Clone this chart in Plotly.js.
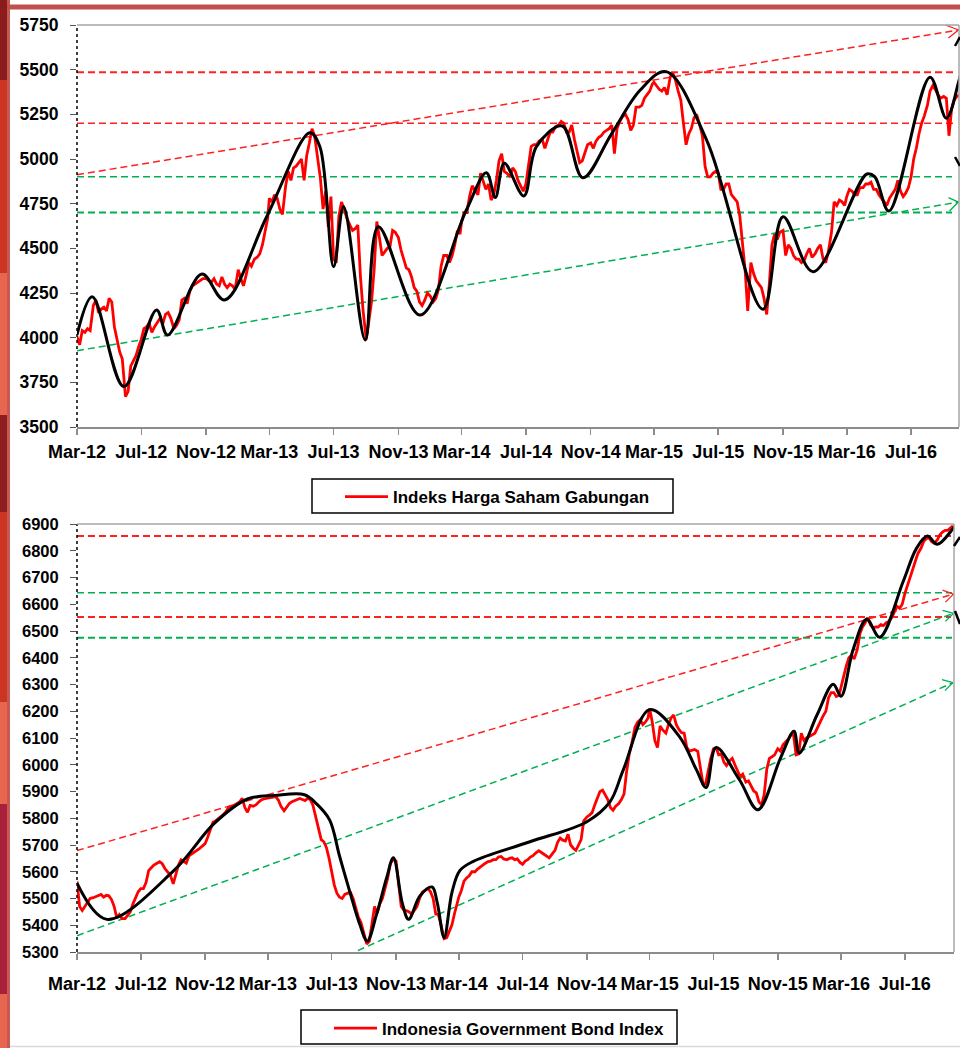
<!DOCTYPE html>
<html><head><meta charset="utf-8">
<script src="https://cdn.plot.ly/plotly-3.0.1.min.js"></script>
<style>html,body{margin:0;padding:0;background:#fff;}#chart{width:960px;height:1048px;}</style>
</head><body><div id="chart"></div>
<script>
// ---------- DATA ----------
const months = [
"2012-03","2012-04","2012-05","2012-06","2012-07","2012-08","2012-09","2012-10","2012-11","2012-12",
"2013-01","2013-02","2013-03","2013-04","2013-05","2013-06","2013-07","2013-08","2013-09","2013-10","2013-11","2013-12",
"2014-01","2014-02","2014-03","2014-04","2014-05","2014-06","2014-07","2014-08","2014-09","2014-10","2014-11","2014-12",
"2015-01","2015-02","2015-03","2015-04","2015-05","2015-06","2015-07","2015-08","2015-09","2015-10","2015-11","2015-12",
"2016-01","2016-02","2016-03","2016-04","2016-05","2016-06","2016-07","2016-08","2016-09"];
const sampleDays = ["01","06","11","16","21","26"];
const lastDate = "2016-10-01";

// Indeks Harga Saham Gabungan, six readings per month
const jciValues = [
4005,3960,4040,4030,4050,4040, 4180,4210,4140,4160,4170,4150, 4220,4200,4060,3980,3920,3880,
3670,3700,3840,3870,3900,3950, 3990,4050,4060,4080,4030,4060, 4090,4110,4080,4130,4140,4110,
4050,4070,4100,4210,4220,4190, 4260,4290,4300,4310,4320,4330, 4330,4320,4310,4330,4300,4290,
4340,4300,4280,4300,4290,4270,
4380,4330,4290,4350,4420,4400, 4440,4450,4470,4520,4600,4670, 4780,4760,4800,4780,4720,4690,
4850,4930,4880,4950,4960,4980, 5000,4880,5020,5090,5170,5130, 4980,4890,4720,4820,4620,4790,
4440,4420,4680,4760,4720,4670, 4630,4600,4610,4630,4340,4150, 3990,4100,4200,4380,4650,4560,
4460,4480,4500,4510,4600,4590, 4560,4490,4440,4390,4380,4340, 4280,4260,4200,4180,4210,4250,
4230,4200,4220,4270,4400,4460, 4460,4420,4460,4520,4600,4580, 4650,4700,4700,4790,4850,4830,
4800,4920,4880,4830,4860,4770, 4800,4880,4990,5030,4930,4920, 4900,4950,4930,4880,4850,4820,
4860,4960,5070,5080,5080,5100, 5110,5060,5100,5150,5150,5180, 5190,5210,5200,5150,5150,5190,
5110,5050,4980,4990,5040,5080, 5090,5060,5100,5120,5130,5150, 5160,5170,5190,5030,5170,5210,
5240,5250,5220,5160,5190,5290, 5290,5300,5340,5360,5380,5420, 5430,5410,5390,5380,5400,5360,
5460,5480,5440,5380,5330,5200, 5080,5140,5170,5230,5250,5200, 5130,4960,4900,4900,4920,4930,
4920,4830,4830,4860,4860,4800, 4780,4760,4680,4540,4380,4150, 4420,4360,4320,4300,4280,4220,
4130,4300,4520,4580,4550,4590, 4600,4460,4520,4500,4460,4440, 4440,4420,4430,4470,4500,4450,
4470,4500,4520,4440,4420,4480, 4590,4760,4740,4770,4760,4740, 4790,4830,4820,4800,4800,4840,
4840,4860,4860,4870,4830,4830, 4800,4780,4760,4740,4780,4800, 4830,4880,4820,4790,4810,4840,
4900,5000,5060,5140,5200,5240, 5300,5380,5410,5390,5360,5340, 5350,5340,5130,5280,5330,5350,
5360];

// Indonesia Government Bond Index, six readings per month
const igbValues = [
5564,5470,5455,5470,5480,5500, 5503,5508,5512,5515,5505,5512, 5510,5496,5470,5428,5440,5425,
5425,5440,5450,5480,5500,5525, 5537,5537,5560,5604,5615,5625, 5632,5638,5630,5612,5600,5590,
5555,5590,5625,5645,5640,5632, 5659,5665,5672,5680,5686,5695, 5705,5730,5760,5785,5790,5798,
5805,5814,5825,5841,5845,5848,
5855,5861,5874,5840,5822,5848, 5845,5850,5860,5868,5872,5874, 5874,5876,5880,5881,5868,5845,
5828,5841,5855,5862,5866,5870, 5874,5870,5866,5874,5870,5850, 5800,5767,5720,5712,5690,5650,
5600,5550,5520,5505,5500,5515, 5520,5523,5500,5460,5430,5410, 5370,5330,5340,5400,5470,5445,
5480,5500,5540,5575,5630,5645, 5640,5550,5470,5456,5455,5450, 5442,5455,5470,5500,5523,5530,
5537,5525,5500,5442,5440,5402, 5350,5354,5380,5402,5445,5483, 5505,5530,5565,5577,5585,5600,
5600,5610,5618,5625,5632,5638, 5640,5645,5645,5655,5657,5648, 5645,5650,5652,5645,5648,5635,
5628,5640,5645,5655,5660,5670, 5679,5672,5665,5658,5652,5665, 5680,5710,5726,5718,5715,5740,
5700,5688,5680,5700,5720,5790, 5805,5812,5821,5850,5875,5900, 5905,5890,5870,5840,5830,5845,
5855,5870,5890,5975,6040,6080, 6140,6159,6168,6150,6160,6175, 6210,6160,6090,6064,6145,6130,
6118,6150,6175,6186,6150,6132, 6120,6118,6065,6051,6055,6057, 6050,5983,5929,5929,5983,6024,
6060,6064,6037,6040,6010,5997, 6015,6024,6000,5980,5956,5965, 5935,5940,5920,5902,5895,5861,
5850,5888,5983,6024,6030,6037, 6060,6051,6075,6085,6095,6110, 6115,6037,6040,6118,6091,6100,
6105,6112,6118,6140,6160,6180, 6200,6250,6270,6270,6255,6260, 6290,6335,6370,6400,6410,6395,
6430,6490,6515,6530,6550,6524, 6511,6515,6515,6524,6520,6530, 6537,6550,6570,6592,6585,6600,
6640,6670,6700,6730,6765,6790, 6810,6835,6845,6850,6835,6828, 6840,6860,6870,6876,6876,6885,
6893];

const jciTrendDates = ["2012-03-01","2012-03-30","2012-05-29","2012-07-30","2012-08-20","2012-10-24","2012-12-06","2013-02-24","2013-05-17","2013-06-05",
"2013-07-01","2013-07-20","2013-08-30","2013-09-24","2013-12-12","2014-03-10","2014-04-17","2014-05-04","2014-05-21","2014-06-27",
"2014-07-21","2014-09-08","2014-10-17","2014-12-10","2015-02-03","2015-03-24","2015-06-09","2015-09-24","2015-11-01","2015-12-28",
"2016-04-08","2016-04-23","2016-05-20","2016-08-06","2016-09-06","2016-09-30","2016-10-08"];
const jciTrendValues = [4015,4229,3726,4155,4015,4356,4211,4677,5147,5069,
4397,4733,3987,4621,4127,4715,4923,4785,4976,4793,
5069,5185,4895,5138,5386,5489,5106,4159,4677,4369,
4916,4901,4709,5457,5228,5440,5530];

const igbTrendDates = ["2012-03-01","2012-04-27","2012-09-02","2012-11-18","2013-01-21","2013-03-14","2013-05-10","2013-06-02","2013-06-27","2013-07-16",
"2013-08-05","2013-08-24","2013-09-07","2013-09-25","2013-10-14","2013-10-27","2013-11-13","2013-11-25","2013-12-17","2014-01-09",
"2014-01-19","2014-02-01","2014-02-16","2014-03-03","2014-03-28","2014-07-15","2014-11-01","2014-12-15","2015-01-10","2015-03-01",
"2015-04-27","2015-05-29","2015-06-17","2015-07-06","2015-08-20","2015-09-24","2015-11-06","2015-12-02","2015-12-12","2016-01-15",
"2016-02-15","2016-03-01","2016-03-24","2016-04-19","2016-05-14","2016-06-28","2016-07-23","2016-08-13","2016-09-01","2016-10-02","2016-10-10"];
const igbTrendValues = [5557,5422,5604,5780,5872,5885,5888,5854,5794,5659,
5523,5402,5341,5442,5577,5652,5483,5422,5510,5543,
5483,5354,5523,5604,5638,5712,5787,5861,5983,6206,
6105,5983,5915,6064,5943,5832,6024,6125,6044,6186,
6301,6256,6430,6544,6477,6686,6808,6855,6824,6885,6905];

const tickDates = ["2012-03-01","2012-07-01","2012-11-01","2013-03-01","2013-07-01","2013-11-01","2014-03-01","2014-07-01","2014-11-01","2015-03-01","2015-07-01","2015-11-01","2016-03-01","2016-07-01"];
const tickLabels = ["Mar-12","Jul-12","Nov-12","Mar-13","Jul-13","Nov-13","Mar-14","Jul-14","Nov-14","Mar-15","Jul-15","Nov-15","Mar-16","Jul-16"];
const jciTicks = [3500,3750,4000,4250,4500,4750,5000,5250,5500,5750];
const igbTicks = [5300,5400,5500,5600,5700,5800,5900,6000,6100,6200,6300,6400,6500,6600,6700,6800,6900];

const jciResistance = [5485, 5200];
const jciSupport = [4900, 4700];
const igbResistance = [6855, 6552];
const igbSupport = [6643, 6475];

const jciChannelDates = ["2012-03-01","2016-09-29"];
const jciUpperChannel = [4912, 5722];
const jciLowerChannel = [3927, 4759];
const igbChannelDates = ["2012-03-01","2016-10-02"];
const igbUpperChannel = [5679, 6638];
const igbMidChannel = [5361, 6566];
const igbLowChannelDates = ["2013-08-20","2016-10-01"];
const igbLowChannel = [5305, 6307];

// date table built from the month / day lists
const dates = months.flatMap(m => sampleDays.map(d => m + "-" + d)).concat([lastDate]);

// ---------- LAYOUT HELPERS ----------
const W = 960, H = 1048;
const px = x => x / W, py = y => 1 - y / H;
const RED = '#ff2020', GREEN = '#00b050';
const DASH = '7px,4px';
const shapes = [];

const strip = [[0,80,'#8b1c1c'],[80,273,'#cc3522'],[273,415,'#e8664f'],[415,512,'#8e1e1e'],[512,702,'#cc3522'],[702,804,'#e8664f'],[804,994,'#a8203c'],[994,1048,'#e8664f']];
strip.forEach(s => shapes.push({type:'rect',xref:'paper',yref:'paper',x0:0,x1:px(7),y0:py(s[1]),y1:py(s[0]),fillcolor:s[2],line:{width:0}}));
shapes.push({type:'rect',xref:'paper',yref:'paper',x0:px(7),x1:px(10),y0:0,y1:1,fillcolor:'#c55a52',line:{width:0}});
shapes.push({type:'rect',xref:'paper',yref:'paper',x0:px(7),x1:1,y0:py(9.5),y1:py(4.5),fillcolor:'#c0504d',line:{width:0}});
shapes.push({type:'line',xref:'paper',yref:'paper',x0:px(10),x1:1,y0:py(1046.5),y1:py(1046.5),line:{color:'#d9d9d9',width:1.5}});

function hLines(vals, ya, color, widths, xEnd) {
  vals.forEach((v,i) => shapes.push({type:'line',xref:'paper',yref:ya,x0:px(77),x1:px(xEnd),y0:v,y1:v,layer:'below',line:{color:color,width:widths[i],dash:DASH}}));
}
function channel(d, v, xa, ya, color, w, heads) {
  shapes.push({type:'line',xref:xa,yref:ya,x0:d[0],x1:d[1],y0:v[0],y1:v[1],layer:'below',line:{color:color,width:w,dash:DASH}});
  heads.forEach(h => shapes.push({type:'line',xref:xa,yref:ya,xsizemode:'pixel',ysizemode:'pixel',xanchor:d[1],yanchor:v[1],x0:0,y0:0,x1:h[0],y1:h[1],layer:'below',line:{color:color,width:1.3}}));
}
hLines(jciResistance,'y',RED,[2,1.5],954);
hLines(jciSupport,'y',GREEN,[1.5,2],952);
channel(jciChannelDates,jciUpperChannel,'x','y',RED,1.5,[[-13,5],[-10,-8]]);
channel(jciChannelDates,jciLowerChannel,'x','y',GREEN,1.5,[[-10,4.5],[-9,-9]]);
hLines(igbResistance,'y2',RED,[2,2],951);
hLines(igbSupport,'y2',GREEN,[1.5,2],952);
channel(igbChannelDates,igbUpperChannel,'x2','y2',RED,1.5,[[-11,4],[-8,-8]]);
channel(igbChannelDates,igbMidChannel,'x2','y2',GREEN,1.5,[[-11,3],[-8,-8]]);
channel(igbLowChannelDates,igbLowChannel,'x2','y2',GREEN,1.5,[[-11,3],[-8,-8]]);

function frame(l, r, t, b) {
  shapes.push({type:'line',xref:'paper',yref:'paper',x0:px(l),x1:px(l),y0:py(b),y1:py(t),line:{color:'#000',width:1.5,dash:'dot'}});
  shapes.push({type:'line',xref:'paper',yref:'paper',x0:px(l),x1:px(r),y0:py(t),y1:py(t),line:{color:'#a6a6a6',width:1.5}});
  shapes.push({type:'line',xref:'paper',yref:'paper',x0:px(r),x1:px(r),y0:py(b),y1:py(t),line:{color:'#a6a6a6',width:1.5}});
}
frame(77,959,25,427);
frame(77,954,524,952);
[[955,46,960,37],[955,157,960,166],[954,546,960,537],[955,611,960,624]].forEach(f =>
  shapes.push({type:'line',xref:'paper',yref:'paper',x0:px(f[0]),y0:py(f[1]),x1:px(f[2]),y1:py(f[3]),line:{color:'#000',width:2.5}}));
shapes.push({type:'rect',xref:'paper',yref:'paper',x0:px(312),x1:px(673),y0:py(513),y1:py(479),line:{color:'#000',width:1.5}});
shapes.push({type:'rect',xref:'paper',yref:'paper',x0:px(301),x1:px(677),y0:py(1044),y1:py(1010),line:{color:'#000',width:1.5}});

const FONT = 'Liberation Sans, Arial, sans-serif';
function xAxis(domain, range, anchor, standoff) {
  return {domain:domain, range:range, type:'date', anchor:anchor, tickvals:tickDates, ticktext:tickLabels,
    tickfont:{family:FONT,size:18,weight:'bold',color:'#000'}, ticks:'outside', ticklen:6, tickwidth:1.5, tickcolor:'#8c8c8c',
    ticklabelstandoff:standoff, showline:true, linecolor:'#8c8c8c', linewidth:2, showgrid:false, zeroline:false, fixedrange:true};
}
function yAxis(domain, range, ticks, anchor, fs) {
  return {domain:domain, range:range, anchor:anchor, tickvals:ticks, ticktext:ticks.map(String),
    tickfont:{family:FONT,size:fs,weight:'bold',color:'#000'}, ticks:'outside', ticklen:6, tickwidth:1, tickcolor:'#555',
    ticklabelstandoff:8, showline:false, showgrid:false, zeroline:false, fixedrange:true};
}

const traces = [
  {x:dates, y:jciValues, type:'scatter', mode:'lines', name:'Indeks Harga Saham Gabungan', line:{color:'#ff0000',width:2.8}, xaxis:'x', yaxis:'y', legend:'legend'},
  {x:jciTrendDates, y:jciTrendValues, type:'scatter', mode:'lines', line:{color:'#000',width:3,shape:'spline',smoothing:1}, xaxis:'x', yaxis:'y', showlegend:false},
  {x:dates, y:igbValues, type:'scatter', mode:'lines', name:'Indonesia Government Bond Index', line:{color:'#ff0000',width:2.8}, xaxis:'x2', yaxis:'y2', legend:'legend2'},
  {x:igbTrendDates, y:igbTrendValues, type:'scatter', mode:'lines', line:{color:'#000',width:3,shape:'spline',smoothing:1}, xaxis:'x2', yaxis:'y2', showlegend:false}
];

const legendBase = {xanchor:'left', yanchor:'top', bgcolor:'rgba(0,0,0,0)', borderwidth:0, itemwidth:43,
  font:{family:FONT,size:17,weight:'bold',color:'#000'}};

const layout = {
  width:W, height:H, margin:{l:0,r:0,t:0,b:0}, paper_bgcolor:'#fff', plot_bgcolor:'#fff',
  font:{family:FONT,color:'#000'}, showlegend:true, hovermode:false,
  xaxis: xAxis([px(77),px(959)], ['2012-03-01','2016-09-30'], 'y', 1),
  yaxis: yAxis([py(427),py(25)], [3500,5750], jciTicks, 'x', 17.5),
  xaxis2: xAxis([px(77),px(954)], ['2012-03-01','2016-10-03'], 'y2', 8),
  yaxis2: yAxis([py(952),py(524)], [5300,6900], igbTicks, 'x2', 16.5),
  legend: Object.assign({x:px(340), y:py(479)}, legendBase),
  legend2: Object.assign({x:px(329), y:py(1010.5)}, legendBase),
  shapes: shapes
};

Plotly.newPlot('chart', traces, layout, {staticPlot:true, displayModeBar:false});
</script>
</body></html>
